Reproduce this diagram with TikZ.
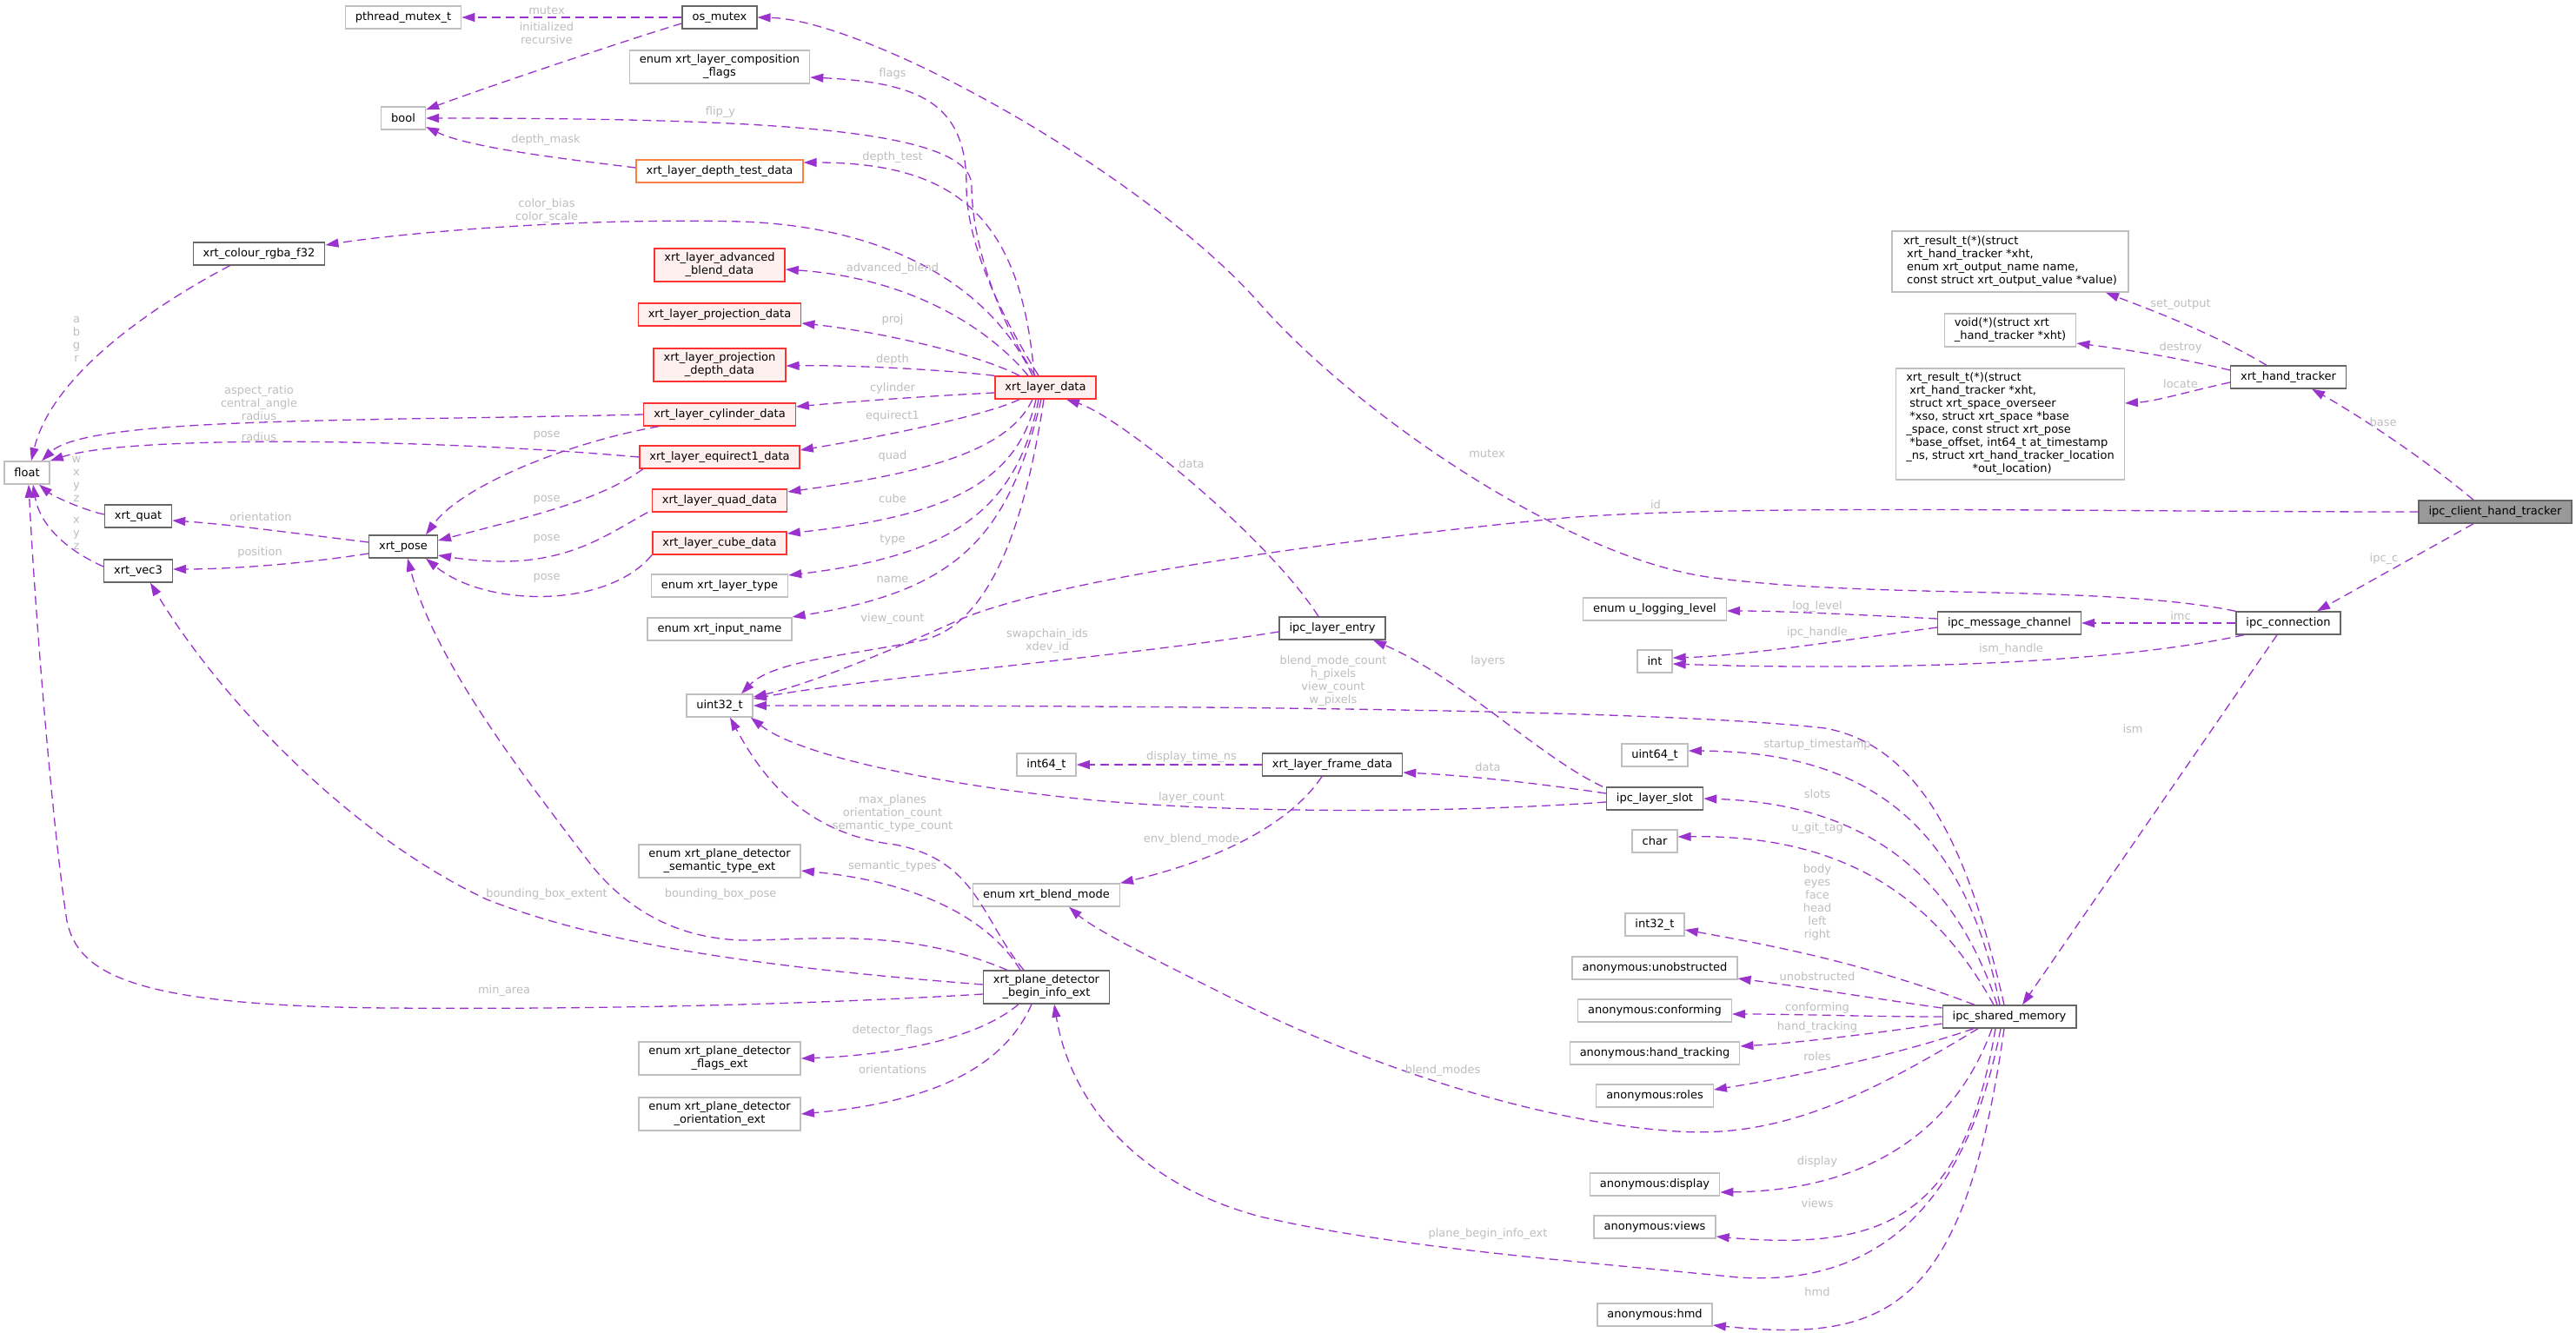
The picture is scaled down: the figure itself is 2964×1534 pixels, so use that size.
\documentclass[tikz,border=0pt]{standalone}
\usepackage{fontspec}
\setmainfont{DejaVu Sans}
\usetikzlibrary{arrows.meta}
\usepackage{xcolor}
\definecolor{edgec}{RGB}{154,50,205}
\definecolor{lblc}{RGB}{190,190,190}
\definecolor{lightbd}{RGB}{191,191,191}
\definecolor{darkbd}{RGB}{102,102,102}
\definecolor{redbd}{RGB}{255,50,50}
\definecolor{redfill}{RGB}{255,240,240}
\definecolor{orangebd}{RGB}{250,128,70}
\definecolor{rootfill}{RGB}{153,153,153}

\begin{document}
\begin{tikzpicture}[x=1pt, y=-1pt, font=\fontsize{13}{15}\selectfont,
    tbox/.style={draw=lightbd, line width=1.4pt, fill=white, inner xsep=11.5pt, inner ysep=5pt, minimum height=26pt, align=center},
    dbox/.style={tbox, draw=darkbd},
    rbox/.style={tbox, draw=redbd, fill=redfill},
    obox/.style={tbox, draw=orangebd},
    rootbox/.style={tbox, draw=darkbd, fill=rootfill},
    lbl/.style={text=lblc, inner sep=0pt, align=center},
    link/.style={draw=edgec, line width=1.3pt, dash pattern=on 10pt off 6pt, -{Triangle[length=15pt,width=10pt]}}]
    \path[use as bounding box, fill=white] (0,0) rectangle (2964,1534);

    % Nodes
    \node[tbox] (flt) at (31,544) {float};
    \node[dbox] (rgba) at (298,292) {xrt\_colour\_rgba\_f32};
    \node[dbox] (quat) at (159,594) {xrt\_quat};
    \node[dbox] (vec) at (159,657) {xrt\_vec3};
    \node[tbox] (pth) at (464,20) {pthread\_mutex\_t};
    \node[tbox] (bool) at (464,136) {bool};
    \node[dbox] (pose) at (464,629) {xrt\_pose};

    \node[dbox] (osm) at (828,20) {os\_mutex};
    \node[tbox] (lcf) at (828,77) {enum xrt\_layer\_composition\\\_flags};
    \node[obox] (ldt) at (828,197) {xrt\_layer\_depth\_test\_data};
    \node[rbox] (lab) at (828,305) {xrt\_layer\_advanced\\\_blend\_data};
    \node[rbox] (lpr) at (828,362) {xrt\_layer\_projection\_data};
    \node[rbox] (lpd) at (828,420) {xrt\_layer\_projection\\\_depth\_data};
    \node[rbox] (lcy) at (828,477) {xrt\_layer\_cylinder\_data};
    \node[rbox] (leq) at (828,526) {xrt\_layer\_equirect1\_data};
    \node[rbox] (lqu) at (828,576) {xrt\_layer\_quad\_data};
    \node[rbox] (lcu) at (828,625) {xrt\_layer\_cube\_data};
    \node[tbox] (ltyp) at (828,674) {enum xrt\_layer\_type};
    \node[tbox] (inm) at (828,724) {enum xrt\_input\_name};
    \node[tbox] (u32) at (828,812) {uint32\_t};
    \node[tbox] (pst) at (828,991) {enum xrt\_plane\_detector\\\_semantic\_type\_ext};
    \node[tbox] (pfl) at (828,1218) {enum xrt\_plane\_detector\\\_flags\_ext};
    \node[tbox] (por) at (828,1282) {enum xrt\_plane\_detector\\\_orientation\_ext};

    \node[rbox] (ld) at (1203,446) {xrt\_layer\_data};
    \node[tbox] (i64) at (1204,880) {int64\_t};
    \node[tbox] (bmode) at (1204,1030) {enum xrt\_blend\_mode};
    \node[dbox] (pdb) at (1204,1136) {xrt\_plane\_detector\\\_begin\_info\_ext};
    \node[dbox] (lent) at (1533,723) {ipc\_layer\_entry};
    \node[dbox] (lfd) at (1533,880) {xrt\_layer\_frame\_data};

    \node[tbox] (ull) at (1904,701) {enum u\_logging\_level};
    \node[tbox] (tint) at (1904,761) {int};
    \node[tbox] (u64) at (1904,869) {uint64\_t};
    \node[dbox] (slot) at (1904,919) {ipc\_layer\_slot};
    \node[tbox] (chr) at (1904,968) {char};
    \node[tbox] (i32) at (1904,1064) {int32\_t};
    \node[tbox] (aun) at (1904,1114) {anonymous:unobstructed};
    \node[tbox] (aco) at (1904,1163) {anonymous:conforming};
    \node[tbox] (aht) at (1904,1212) {anonymous:hand\_tracking};
    \node[tbox] (aro) at (1904,1261) {anonymous:roles};
    \node[tbox] (adi) at (1904,1363) {anonymous:display};
    \node[tbox] (avi) at (1904,1412) {anonymous:views};
    \node[tbox] (ahm) at (1904,1513) {anonymous:hmd};

    \node[dbox] (ism) at (2312,1170) {ipc\_shared\_memory};
    \node[dbox] (mch) at (2312,717) {ipc\_message\_channel};
    \node[tbox, inner xsep=13pt] (setout) at (2313,301) {\begin{tabular}{@{}l@{}}xrt\_result\_t(*)(struct\\~xrt\_hand\_tracker *xht,\\~enum xrt\_output\_name name,\\~const struct xrt\_output\_value *value)\end{tabular}};
    \node[tbox, align=left] (destr) at (2313,380) {void(*)(struct xrt\\\_hand\_tracker *xht)};
    \node[tbox, inner ysep=4pt] (locate) at (2313,488) {\begin{tabular}{@{}l@{}}xrt\_result\_t(*)(struct\\~xrt\_hand\_tracker *xht,\\~struct xrt\_space\_overseer\\~*xso, struct xrt\_space *base\\\_space, const struct xrt\_pose\\~*base\_offset, int64\_t at\_timestamp\\\_ns, struct xrt\_hand\_tracker\_location\\\multicolumn{1}{@{}c@{}}{~*out\_location)}\end{tabular}};
    \node[dbox] (xht) at (2633,434) {xrt\_hand\_tracker};
    \node[dbox] (conn) at (2633,717) {ipc\_connection};
    \node[rootbox] (root) at (2871,589) {ipc\_client\_hand\_tracker};

    % Members of os_mutex, xrt_layer_data and friends
    \draw[link] (osm.west) -- (pth.east);
    \draw[link] ([yshift=-7pt]osm.west) .. controls (740,40) and (560,100) .. ([yshift=-4pt]bool.north east);
    \draw[link] (conn.north west) .. controls (2420,672) and (2150,690) .. (1965,664) .. controls (1800,640) and (1560,475) .. (1450,350) .. controls (1318,200) and (1000,23) .. (osm.east);
    \draw[link] ([xshift=-12pt]ld.north) .. controls (1150,370) and (1118,280) .. (1118,214) .. controls (1118,150) and (900,136) .. (bool.east);
    \draw[link] ([xshift=-8pt]ld.north) .. controls (1150,360) and (1112,280) .. (1112,214) .. controls (1112,120) and (1060,95) .. ([yshift=-12pt]lcf.east);
    \draw[link] ([xshift=-13pt]ld.north) .. controls (1175,250) and (1100,187) .. ([yshift=10pt]ldt.east);
    \draw[link] ([yshift=4pt]ldt.west) .. controls (650,183) and (540,170) .. ([yshift=-10pt]bool.east);
    \draw[link] ([xshift=-15pt]ld.north) .. controls (1150,350) and (1050,262) .. (853,255) .. controls (650,250) and (450,270) .. ([yshift=10pt]rgba.east);
    \draw[link] ([xshift=43pt]rgba.south west) .. controls (180,350) and (60,430) .. ([xshift=5pt]flt.north);
    \draw[link] ([xshift=-20pt]ld.north) .. controls (1140,380) and (1050,320) .. ([yshift=-5pt]lab.east);
    \draw[link] ([xshift=-30pt]ld.north) .. controls (1120,405) and (1000,380) .. ([yshift=-10pt]lpr.east);
    \draw[link] (ld.north west) .. controls (1080,425) and (980,420) .. ([yshift=-1pt]lpd.east);
    \draw[link] ([yshift=-6pt]ld.west) .. controls (1080,455) and (980,462) .. ([yshift=9pt]lcy.east);
    \draw[link] ([xshift=-30pt]ld.south) .. controls (1130,480) and (1000,505) .. ([yshift=8pt]leq.east);
    \draw[link] ([xshift=-15pt]ld.south) .. controls (1160,520) and (1060,545) .. ([yshift=10pt]lqu.east);
    \draw[link] ([xshift=-11pt]ld.south) .. controls (1170,560) and (1080,595) .. ([yshift=11pt]lcu.east);
    \draw[link] ([xshift=-8pt]ld.south) .. controls (1170,590) and (1090,640) .. ([yshift=12pt]ltyp.east);
    \draw[link] ([xshift=-5pt]ld.south) .. controls (1160,620) and (1100,680) .. ([yshift=14pt]inm.east);
    \draw[link] ([xshift=-2pt]ld.south) .. controls (1180,600) and (1140,720) .. (1060,737) .. controls (980,754) and (890,760) .. ([xshift=25pt]u32.north);
    \draw[link] (lcy.west) .. controls (400,485) and (100,480) .. ([xshift=17pt]flt.north);
    \draw[link] (leq.west) .. controls (500,505) and (150,500) .. (flt.north east);
    \draw[link] ([xshift=-70pt]lcy.south) .. controls (650,510) and (530,560) .. ([xshift=26pt]pose.north);
    \draw[link] ([xshift=-88pt]leq.south) .. controls (690,575) and (620,592) .. ([yshift=7pt]pose.east);
    \draw[link] ([xshift=-83pt]lqu.south) .. controls (690,620) and (640,660) .. ([yshift=-10pt]pose.east);
    \draw[link] ([xshift=-78pt]lcu.south) .. controls (700,700) and (560,700) .. ([xshift=26pt]pose.south);
    \draw[link] ([yshift=2pt]quat.west) .. controls (90,585) and (60,570) .. ([xshift=14pt]flt.south);
    \draw[link] ([yshift=5pt]vec.west) .. controls (70,630) and (45,600) .. ([xshift=7pt]flt.south);
    \draw[link] ([yshift=5pt]pose.west) .. controls (350,615) and (260,603) .. ([yshift=-5pt]quat.east);
    \draw[link] ([yshift=-8pt]pose.west) .. controls (340,650) and (260,655) .. ([yshift=2pt]vec.east);

    % Plane detector
    \draw[link] ([yshift=3pt]pdb.west) .. controls (900,1115) and (700,1090) .. (560,1035) .. controls (400,960) and (250,800) .. ([xshift=14pt]vec.south);
    \draw[link] ([xshift=-45pt]pdb.north) .. controls (1050,1070) and (950,1080) .. (868,1082) .. controls (780,1084) and (720,1045) .. (680,995) .. controls (600,890) and (500,760) .. ([xshift=5pt]pose.south);
    \draw[link] ([yshift=-8pt]pdb.west) .. controls (950,1155) and (700,1162) .. (450,1160) .. controls (150,1158) and (90,1120) .. (77,1060) .. controls (60,950) and (40,700) .. ([xshift=2pt]flt.south);
    \draw[link] ([xshift=-30pt]pdb.north) .. controls (1140,1060) and (1060,1015) .. ([yshift=-11pt]pst.east);
    \draw[link] ([xshift=-26pt]pdb.north) .. controls (1130,1060) and (1125,990) .. (1030,972) .. controls (930,960) and (880,900) .. ([xshift=12pt]u32.south);
    \draw[link] ([xshift=-32pt]pdb.south) .. controls (1120,1200) and (1010,1215) .. (pfl.east);
    \draw[link] ([xshift=-17pt]pdb.south) .. controls (1150,1240) and (1050,1270) .. (por.east);

    % Layer slots and entries
    \draw[link] ([xshift=-12pt]lfd.south) .. controls (1490,940) and (1420,985) .. (bmode.north east);
    \draw[link] (lfd.west) -- (i64.east);
    \draw[link] ([yshift=6pt]slot.west) .. controls (1760,900) and (1680,892) .. ([yshift=-9pt]lfd.east);
    \draw[link] ([yshift=-4pt]slot.west) .. controls (1650,937) and (1400,935) .. (1250,920) .. controls (1080,903) and (920,870) .. ([xshift=-3pt]u32.south east);
    \draw[link] ([xshift=-60pt]slot.north) .. controls (1770,870) and (1680,780) .. ([xshift=47pt]lent.south);
    \draw[link] ([xshift=-16pt]lent.north) .. controls (1460,620) and (1290,480) .. ([xshift=24pt]ld.south);
    \draw[link] ([yshift=-4pt]lent.west) .. controls (1300,755) and (1000,780) .. ([yshift=8pt]u32.east);
    \draw[link] (root.west) .. controls (2400,589) and (2000,580) .. (1800,596) .. controls (1500,625) and (1200,670) .. (1100,715) .. controls (1000,760) and (920,790) .. ([yshift=10pt]u32.east);

    % Shared memory
    \draw[link] ([xshift=-10pt]ism.south) .. controls (2260,1400) and (2150,1480) .. (2000,1470) .. controls (1800,1450) and (1600,1435) .. (1450,1400) .. controls (1300,1360) and (1230,1260) .. ([xshift=9pt]pdb.south);
    \draw[link] ([xshift=-36pt]ism.south) .. controls (2150,1260) and (2050,1310) .. (1930,1302) .. controls (1750,1290) and (1550,1215) .. (1420,1150) .. controls (1330,1105) and (1260,1070) .. ([xshift=26pt]bmode.south);
    \draw[link] ([xshift=-6pt]ism.north) .. controls (2270,1000) and (2220,860) .. (2100,838) .. controls (1900,815) and (1300,812) .. (u32.east);
    \draw[link] ([xshift=-11pt]ism.north) .. controls (2260,950) and (2150,865) .. ([yshift=5pt]u64.east);
    \draw[link] ([xshift=-14pt]ism.north) .. controls (2250,1010) and (2150,925) .. (slot.east);
    \draw[link] ([xshift=-18pt]ism.north) .. controls (2230,1040) and (2130,960) .. ([yshift=5pt]chr.east);
    \draw[link] ([xshift=-40pt]ism.north) .. controls (2150,1110) and (2050,1090) .. ([yshift=-6pt]i32.east);
    \draw[link] ([yshift=10pt]ism.west) .. controls (2150,1148) and (2070,1135) .. ([yshift=-12pt]aun.east);
    \draw[link] (ism.west) .. controls (2150,1170) and (2070,1167) .. ([yshift=-4pt]aco.east);
    \draw[link] ([yshift=-8pt]ism.west) .. controls (2150,1190) and (2070,1200) .. ([yshift=8pt]aht.east);
    \draw[link] ([xshift=-41pt]ism.south) .. controls (2180,1215) and (2060,1240) .. ([yshift=7pt]aro.east);
    \draw[link] ([xshift=-20pt]ism.south) .. controls (2250,1300) and (2150,1370) .. ([yshift=-9pt]adi.east);
    \draw[link] ([xshift=-16pt]ism.south) .. controls (2260,1400) and (2170,1440) .. ([yshift=-11pt]avi.east);
    \draw[link] ([xshift=-6pt]ism.south) .. controls (2260,1510) and (2170,1545) .. ([yshift=-12pt]ahm.east);

    % Connection and hand tracker
    \draw[link] ([xshift=-13pt]conn.south) -- ([xshift=15pt]ism.north);
    \draw[link] (conn.west) -- (mch.east);
    \draw[link] ([xshift=-51pt]conn.south) .. controls (2400,770) and (2100,770) .. ([yshift=-3pt]tint.east);
    \draw[link] ([yshift=5pt]mch.west) .. controls (2150,708) and (2050,703) .. ([yshift=-2pt]ull.east);
    \draw[link] ([yshift=-5pt]mch.west) .. controls (2100,740) and (2000,755) .. ([yshift=4pt]tint.east);
    \draw[link] ([xshift=-25pt]root.north) .. controls (2780,520) and (2700,470) .. ([xshift=27pt]xht.south);
    \draw[link] ([xshift=-25pt]root.south) -- ([xshift=33pt]conn.north);
    \draw[link] ([xshift=-25pt]xht.north) .. controls (2540,380) and (2470,355) .. ([xshift=110pt]setout.south);
    \draw[link] ([yshift=8pt]xht.west) .. controls (2500,410) and (2430,400) .. ([yshift=-15pt]destr.east);
    \draw[link] ([yshift=-6pt]xht.west) .. controls (2520,450) and (2480,462) .. ([yshift=24pt]locate.east);

    % Labels
    \node[lbl] (lmutex) at (629,12) {mutex};
    \node[lbl] (linit) at (629,38) {initialized\\recursive};
    \node[lbl] (lflags) at (1027,85) {flags};
    \node[lbl] (lflip) at (829,129) {flip\_y};
    \node[lbl] (ldtest) at (1027,181) {depth\_test};
    \node[lbl] (ldmask) at (628,161) {depth\_mask};
    \node[lbl] (lcolor) at (629,243) {color\_bias\\color\_scale};
    \node[lbl] (labgr) at (88,390) {a\\b\\g\\r};
    \node[lbl] (ladv) at (1027,309) {advanced\_blend};
    \node[lbl] (lproj) at (1027,368) {proj};
    \node[lbl] (ldepth) at (1027,414) {depth};
    \node[lbl] (lcyl) at (1027,447) {cylinder};
    \node[lbl] (lequi) at (1027,479) {equirect1};
    \node[lbl] (lquad) at (1027,525) {quad};
    \node[lbl] (lcube) at (1027,574) {cube};
    \node[lbl] (ltype) at (1027,621) {type};
    \node[lbl] (lname) at (1027,667) {name};
    \node[lbl] (lvc) at (1027,712) {view\_count};
    \node[lbl] (lasp) at (298,464) {aspect\_ratio\\central\_angle\\radius};
    \node[lbl] (lrad) at (298,503) {radius};
    \node[lbl] (lposea) at (629,501) {pose};
    \node[lbl] (lposeb) at (629,575) {pose};
    \node[lbl] (lposec) at (629,620) {pose};
    \node[lbl] (lposed) at (629,665) {pose};
    \node[lbl] (lwxyz) at (88,551) {w\\x\\y\\z};
    \node[lbl] (lxyz) at (88,614) {x\\y\\z};
    \node[lbl] (lorient) at (300,595) {orientation};
    \node[lbl] (lpos) at (299,636) {position};
    \node[lbl] (lbbe) at (629,1029) {bounding\_box\_extent};
    \node[lbl] (lbbp) at (829,1029) {bounding\_box\_pose};
    \node[lbl] (lmin) at (580,1140) {min\_area};
    \node[lbl] (lsem) at (1027,997) {semantic\_types};
    \node[lbl] (lmax) at (1027,936) {max\_planes\\orientation\_count\\semantic\_type\_count};
    \node[lbl] (ldet) at (1027,1186) {detector\_flags};
    \node[lbl] (lori) at (1027,1231) {orientations};
    \node[lbl] (lpbi) at (1712,1420) {plane\_begin\_info\_ext};
    \node[lbl] (lbm) at (1660,1232) {blend\_modes};
    \node[lbl] (lenv) at (1371,966) {env\_blend\_mode};
    \node[lbl] (ldisp) at (1371,871) {display\_time\_ns};
    \node[lbl] (ldata) at (1712,883) {data};
    \node[lbl] (llc) at (1371,918) {layer\_count};
    \node[lbl] (llayers) at (1712,761) {layers};
    \node[lbl] (ldatb) at (1371,534) {data};
    \node[lbl] (lswap) at (1205,738) {swapchain\_ids\\xdev\_id};
    \node[lbl] (lbmc) at (1534,784) {blend\_mode\_count\\h\_pixels\\view\_count\\w\_pixels};
    \node[lbl] (lstart) at (2091,857) {startup\_timestamp};
    \node[lbl] (lslots) at (2091,914) {slots};
    \node[lbl] (lgit) at (2091,953) {u\_git\_tag};
    \node[lbl] (lbody) at (2091,1038) {body\\eyes\\face\\head\\left\\right};
    \node[lbl] (lunob) at (2091,1124) {unobstructed};
    \node[lbl] (lconf) at (2091,1160) {conforming};
    \node[lbl] (lhand) at (2091,1182) {hand\_tracking};
    \node[lbl] (lroles) at (2091,1216) {roles};
    \node[lbl] (ldisplay) at (2091,1337) {display};
    \node[lbl] (lviews) at (2091,1385) {views};
    \node[lbl] (lhmd) at (2091,1487) {hmd};
    \node[lbl] (lism) at (2454,839) {ism};
    \node[lbl] (limc) at (2509,709) {imc};
    \node[lbl] (lismh) at (2314,747) {ism\_handle};
    \node[lbl] (llog) at (2091,698) {log\_level};
    \node[lbl] (lipch) at (2091,728) {ipc\_handle};
    \node[lbl] (lmutexb) at (1711,522) {mutex};
    \node[lbl] (lbase) at (2742,486) {base};
    \node[lbl] (lipcc) at (2743,643) {ipc\_c};
    \node[lbl] (lid) at (1905,581) {id};
    \node[lbl] (lset) at (2509,350) {set\_output};
    \node[lbl] (ldestr) at (2509,400) {destroy};
    \node[lbl] (lloc) at (2509,442) {locate};
\end{tikzpicture}
\end{document}
